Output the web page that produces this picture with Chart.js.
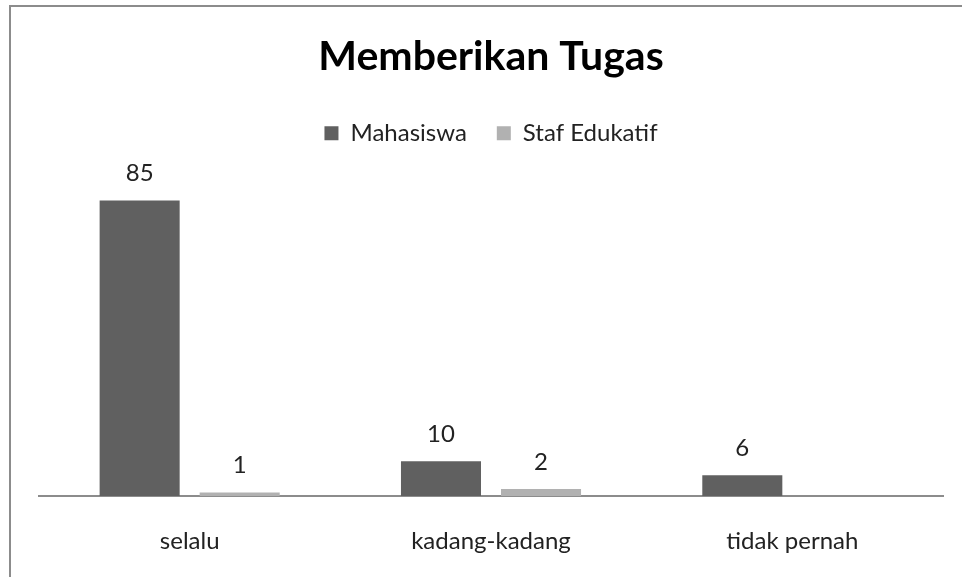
<!DOCTYPE html>
<html>
<head>
<meta charset="utf-8">
<script src="https://cdn.jsdelivr.net/npm/chart.js@4"></script>
<style>
  html, body { margin: 0; padding: 0; background: #fff; }
  #wrap { position: relative; width: 962px; height: 577px; }
</style>
</head>
<body>
<div id="wrap"><canvas id="tugasChart" width="962" height="577"></canvas></div>
<script>
"use strict";

var categories = ['selalu', 'kadang-kadang', 'tidak pernah'];
var mahasiswa = [85, 10, 6];
var stafEdukatif = [1, 2, null];
var seriesNames = ['Mahasiswa', 'Staf Edukatif'];

var COLORS = {
  'mahasiswa': '#606060',
  'staf': '#b1b1b1',
  'axis': '#8c8c8c',
  'border': '#8c8c8c',
  'text': '#222222'
};
var FONT = 'Lato, "Open Sans", sans-serif';

// frame line of the original chart box (top and left edges only are visible)
var framePlugin = {
  id: 'frame',
  afterDraw: function (chart) {
    var ctx = chart.ctx;
    ctx.save();
    ctx.strokeStyle = COLORS.border;
    ctx.lineWidth = 2;
    ctx.beginPath();
    ctx.moveTo(10, chart.height);
    ctx.lineTo(10, 6);
    ctx.lineTo(chart.width, 6);
    ctx.stroke();
    ctx.restore();
  }
};

// extra room under the legend
var legendGap = {
  id: 'legendGap',
  beforeInit: function (chart) {
    var fit = chart.legend.fit;
    chart.legend.fit = function () {
      fit.bind(chart.legend)();
      this.height += 28;
    };
  }
};

// value labels above each bar
var valueLabels = {
  id: 'valueLabels',
  afterDatasetsDraw: function (chart) {
    var ctx = chart.ctx;
    ctx.save();
    ctx.font = '24px ' + FONT;
    ctx.fillStyle = COLORS.text;
    ctx.textAlign = 'center';
    ctx.textBaseline = 'middle';
    chart.data.datasets.forEach(function (ds, i) {
      chart.getDatasetMeta(i).data.forEach(function (bar, j) {
        if (ds.data[j] === null || ds.data[j] === undefined) return;
        ctx.fillText(String(ds.data[j]), bar.x, bar.y - 27);
      });
    });
    ctx.restore();
  }
};

var load_tugas_chart = function () {
  var el = document.getElementById('tugasChart').getContext('2d');
  var config = {
    type: 'bar',
    data: {
      labels: categories,
      datasets: [
        {
          label: seriesNames[0],
          data: mahasiswa,
          backgroundColor: COLORS.mahasiswa,
          categoryPercentage: 0.664,
          barPercentage: 0.8
        },
        {
          label: seriesNames[1],
          data: stafEdukatif,
          backgroundColor: COLORS.staf,
          categoryPercentage: 0.664,
          barPercentage: 0.8
        }
      ]
    },
    options: {
      responsive: false,
      animation: false,
      layout: {
        padding: { top: 8, left: 39, right: 19, bottom: 22 }
      },
      scales: {
        x: {
          grid: { display: false, drawTicks: false },
          border: { display: true, color: COLORS.axis, width: 2 },
          ticks: {
            color: COLORS.text,
            font: { family: FONT, size: 24 },
            padding: 31
          },
          afterFit: function (scale) {
            scale.height = 59;
          }
        },
        y: {
          display: false,
          min: 0,
          max: 90
        }
      },
      plugins: {
        title: {
          display: true,
          text: 'Memberikan Tugas',
          color: '#000',
          font: { family: FONT, size: 41, weight: 'bold' },
          padding: { top: 24, bottom: 10 }
        },
        legend: {
          position: 'top',
          labels: {
            color: COLORS.text,
            font: { family: FONT, size: 24 },
            boxWidth: 14,
            boxHeight: 14,
            padding: 30
          }
        },
        tooltip: { enabled: false }
      }
    },
    plugins: [framePlugin, legendGap, valueLabels]
  };
  return new Chart(el, config);
};

load_tugas_chart();
</script>
</body>
</html>
